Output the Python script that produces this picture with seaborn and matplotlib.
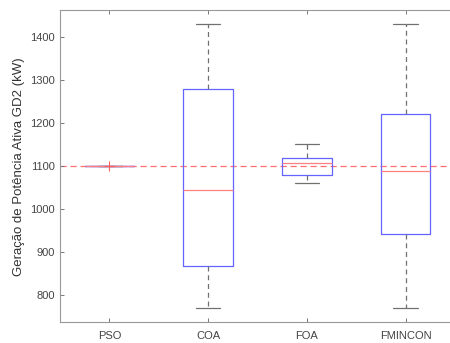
import numpy as np
import pandas as pd
import matplotlib
matplotlib.use("Agg")
import matplotlib.pyplot as plt
import seaborn as sns

# Data (five-number summaries: min, q1, median, q3, max)
methods = ["PSO", "COA", "FOA", "FMINCON"]
pso = [1100, 1100, 1100, 1100, 1100, 1100.3]
coa = [770, 867, 1046, 1281, 1430]
foa = [1060, 1079, 1108, 1119, 1153]
fmincon = [770, 943, 1088, 1221, 1430]
reference_value = 1100
yticks = [800, 900, 1000, 1100, 1200, 1300, 1400]
ylabel = "Geração de Potência Ativa GD2 (kW)"

df = pd.DataFrame({
    "method": ["PSO"] * len(pso) + ["COA"] * len(coa) + ["FOA"] * len(foa) + ["FMINCON"] * len(fmincon),
    "value": pso + coa + foa + fmincon,
})

sns.set_style("white")
plt.rcParams["font.family"] = ["Liberation Sans", "DejaVu Sans"]

fig = plt.figure(figsize=(4.5, 3.43), dpi=100)
ax = fig.add_axes([60 / 450, 20.7 / 343, 395 / 450, 312 / 343])

box_c = "#6464ff"
med_c = "#ff8080"
whisk_c = "#707070"

sns.boxplot(
    data=df, x="method", y="value", order=methods, ax=ax,
    fill=False, width=0.5, whis=1.5,
    boxprops=dict(color=box_c, linewidth=0.9),
    medianprops=dict(color=med_c, linewidth=0.9, zorder=5),
    whiskerprops=dict(color=whisk_c, linewidth=0.9, linestyle=(0, (4, 3))),
    capprops=dict(color=whisk_c, linewidth=0.9, zorder=2),
    flierprops=dict(marker="+", markeredgecolor="#ff6060", markersize=7, markeredgewidth=0.8, zorder=6),
    capwidths=0.25,
)

ax.axhline(reference_value, color="#ff7070", linestyle=(0, (5, 3)), linewidth=0.9, zorder=0.5)

ax.set_xlim(-0.5, 3.5)
ax.set_ylim(737, 1463)
ax.set_yticks(yticks)
ax.set_xlabel("")
ax.set_ylabel(ylabel, fontsize=9.5, color="#333333", labelpad=4)

for s in ax.spines.values():
    s.set_color("#999999")
    s.set_linewidth(0.8)
    s.set_visible(True)
ax.spines["right"].set_visible(False)

ax.tick_params(axis="both", direction="in", length=3, width=0.7, color="#777777",
               labelsize=8, labelcolor="#444444", top=True, right=False, bottom=True, left=True)
ax.tick_params(axis="x", pad=6)

fig.savefig("out.png", dpi=100)
